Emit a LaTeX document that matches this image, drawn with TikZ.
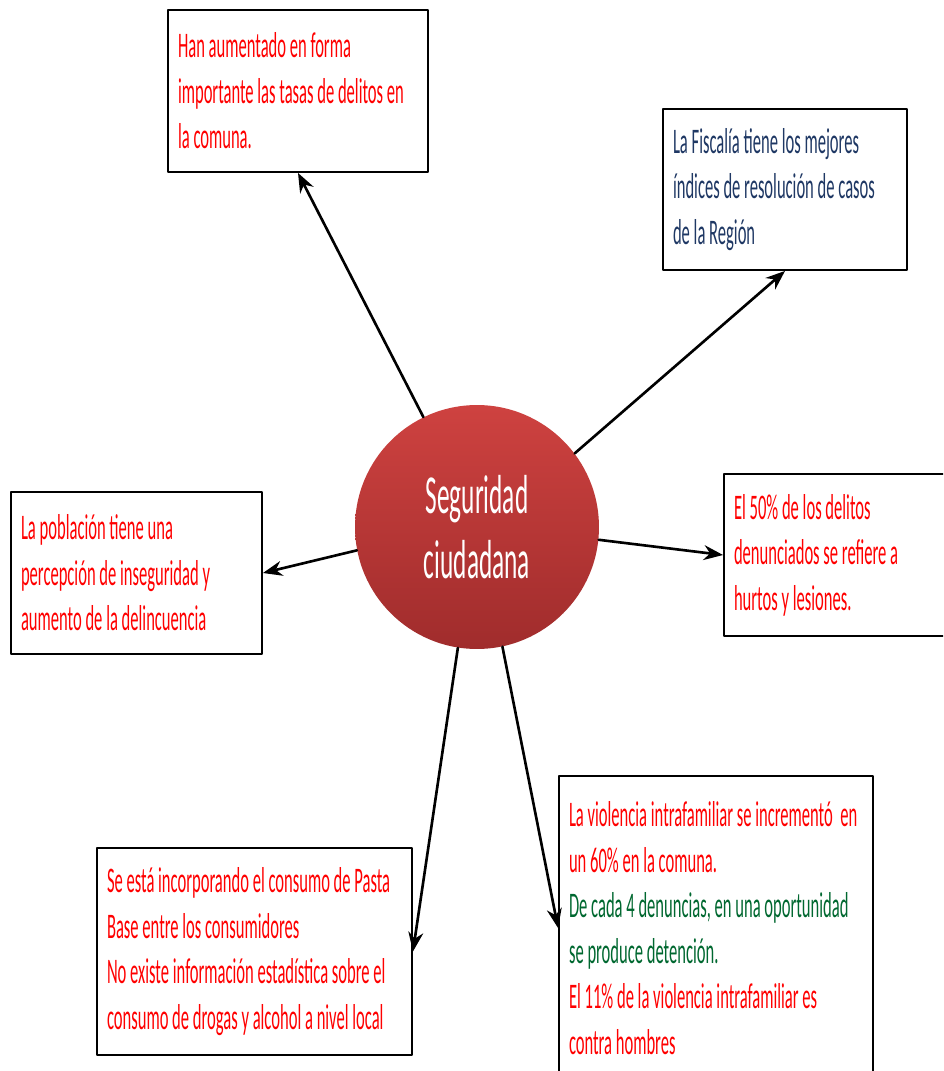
\documentclass[tikz,border=0pt]{standalone}
\usepackage{fontspec}
\setmainfont{Carlito}
\newfontfamily\boxfont[FakeStretch=0.46]{Carlito}
\usetikzlibrary{arrows.meta}
\definecolor{fiscblue}{RGB}{31,56,100}
\definecolor{detgreen}{RGB}{0,104,48}
\definecolor{circtop}{RGB}{206,66,64}
\definecolor{circbot}{RGB}{160,44,44}
\hyphenpenalty=10000
\tikzset{
    infobox/.style={
        draw=black, line width=1.1pt, fill=white,
        inner xsep=0.2cm, inner ysep=0pt,
        align=flush left, text=red,
        font=\boxfont\fontsize{20.5}{25.9}\selectfont
    },
    link/.style={
        line width=1.5pt, -{Stealth[length=11pt,width=8.5pt]}
    }
}

\begin{document}
\begin{tikzpicture}[x=0.02cm,y=-0.02cm,line cap=round,line join=round]

% --- page ---
    \useasboundingbox (0,0) rectangle (943,1071);
    \clip (0,0) rectangle (943,1071);

% centre
    \node[circle, minimum size=4.88cm, inner sep=0pt,
          top color=circtop, bottom color=circbot,
          text=white, align=center,
          font=\boxfont\fontsize{31.3}{37}\selectfont]
          (seguridad) at (477,527) {Seguridad\\ciudadana};

% boxes
    \node[infobox, text width=4.8cm, minimum height=3.24cm]
          (delitos) at (298,91)
          {Han aumentado en forma\\importante las tasas de delitos en\\la comuna.};
    \node[infobox, text=fiscblue, text width=4.48cm, minimum height=3.22cm]
          (fiscalia) at (785,189.5)
          {La Fiscalía tiene los mejores\\índices de resolución de casos\\de la Región};
    \node[infobox, text width=4.62cm, minimum height=3.24cm]
          (percepcion) at (136.5,573)
          {La población tiene una\\percepción de inseguridad y\\aumento de la delincuencia};
    \node[infobox, text width=4.32cm, minimum height=3.24cm]
          (hurtos) at (842,555)
          {El 50\% de los delitos\\denunciados se refiere a\\hurtos y lesiones.};
    \node[infobox, text width=5.9cm, minimum height=4.14cm]
          (drogas) at (254.5,951.5)
          {Se está incorporando el consumo de Pasta\\Base entre los consumidores\\No existe información estadística sobre el\\consumo de drogas y alcohol a nivel local};
    \node[infobox, text width=5.88cm, minimum height=6.08cm]
          (violencia) at (716,928)
          {La violencia intrafamiliar se incrementó~ en\\un 60\% en la comuna.\\
           \textcolor{detgreen}{De cada 4 denuncias, en una oportunidad}\\
           \textcolor{detgreen}{se produce detención.}\\
           El 11\% de la violencia intrafamiliar es\\contra hombres};

% arrows
    \draw[link] (seguridad.116) -- (delitos.south);
    \draw[link] (seguridad.37)  -- (fiscalia.south);
    \draw[link] (seguridad.191) -- (percepcion.east);
    \draw[link] (seguridad.-6)  -- (hurtos.west);
    \draw[link] (seguridad.261) -- (drogas.east);
    \draw[link] (seguridad.282) -- (violencia.west);

\end{tikzpicture}
\end{document}
